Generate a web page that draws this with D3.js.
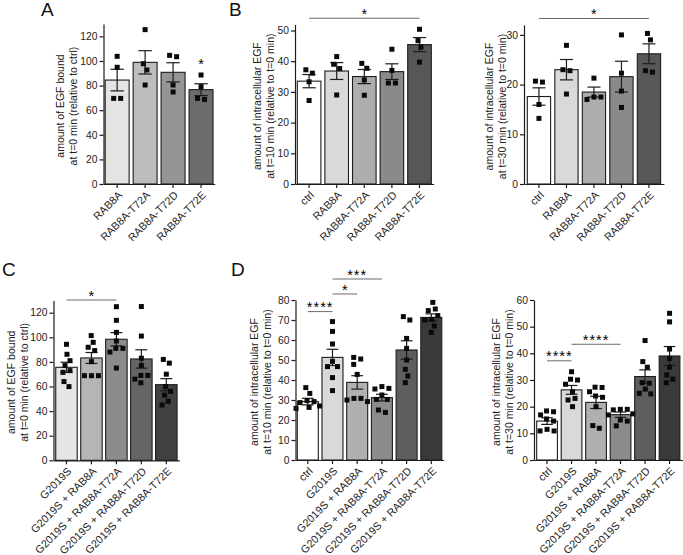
<!DOCTYPE html>
<html><head><meta charset="utf-8">
<script src="https://cdn.jsdelivr.net/npm/d3@7"></script>
<style>body{margin:0;background:#fff} svg{display:block}</style>
</head><body>
<svg id="c" width="683" height="555"></svg>
<script>
// ---------------- DATA ----------------
// Panel A
const catsA = ["RAB8A", "RAB8A-T72A", "RAB8A-T72D", "RAB8A-T72E"];
const meanA = [84.5, 98.9, 90.8, 76.7];
const semA  = [8.8, 9.5, 7.8, 4.8];
const ptsA  = [[103.8, 94.9, 69.6, 69.6], [125.5, 97.8, 92.7, 80.5], [103.5, 104.6, 80.5, 74.8], [88.6, 79.1, 68.8, 69.6]];
const ticksA = [0, 20, 40, 60, 80, 100, 120];
const sigA = [[3, 3, "*", 94]];

// Panel B (t=10)
const catsB = ["ctrl", "RAB8A", "RAB8A-T72A", "RAB8A-T72D", "RAB8A-T72E"];
const meanB10 = [33.5, 36.8, 35.0, 36.6, 45.4];
const semB10  = [2.15, 2.75, 2.3, 2.55, 2.3];
const ptsB10  = [[36.1, 37.2, 33.3, 27.2], [41.5, 39.0, 37.6, 29.0], [37.7, 39.3, 33.9, 28.9], [43.9, 37.0, 32.9, 32.9], [50.4, 46.7, 44.6, 39.7]];
const ticksB10 = [0, 10, 20, 30, 40, 50];
const sigB10 = [[0, 4, "*", 54]];

// Panel B (t=30)
const meanB30 = [17.6, 23.0, 18.5, 21.6, 26.2];
const semB30  = [1.75, 2.05, 1.0, 3.1, 2.0];
const ptsB30  = [[20.5, 20.7, 16.0, 13.2], [27.9, 23.0, 22.8, 18.1], [21.3, 17.5, 17.0, 17.5], [30.0, 22.3, 18.7, 15.4], [30.3, 29.0, 22.5, 22.8]];
const ticksB30 = [0, 10, 20, 30];
const sigB30 = [[0, 4, "*", 33.3]];

// Panel C
const catsC = ["G2019S", "G2019S + RAB8A", "G2019S + RAB8A-T72A", "G2019S + RAB8A-T72D", "G2019S + RAB8A-T72E"];
const meanC = [75.6, 83.2, 98.4, 82.4, 61.5];
const semC  = [4.1, 4.45, 5.4, 7.45, 4.9];
const ptsC  = [
  [94.3, 86.2, 81.0, 77.0, 72.9, 71.5, 64.0, 59.9],
  [101.4, 95.9, 91.9, 89.2, 80.2, 68.8, 68.8, 68.8],
  [124.9, 113.8, 104.0, 97.0, 91.0, 91.0, 88.0, 75.0],
  [125.0, 101.0, 83.0, 77.0, 69.0, 69.0, 66.0, 63.0],
  [82.0, 79.0, 70.0, 60.0, 56.0, 53.0, 48.0, 45.0]
];
const ticksC = [0, 20, 40, 60, 80, 100, 120];
const sigC = [[0, 2, "*", 130.3]];

// Panel D (t=10)
const catsD = ["ctrl", "G2019S", "G2019S + RAB8A", "G2019S + RAB8A-T72A", "G2019S + RAB8A-T72D", "G2019S + RAB8A-T72E"];
const meanD10 = [29.2, 51.3, 38.8, 31.2, 55.0, 71.3];
const semD10  = [1.65, 4.05, 3.35, 1.65, 4.6, 1.75];
const ptsD10  = [
  [33.3, 36.2, 29.2, 29.7, 28.7, 27.0, 25.8, 26.3],
  [69.2, 64.3, 58.0, 49.3, 46.7, 46.7, 41.2, 34.7],
  [51.3, 50.5, 47.8, 42.8, 30.8, 29.2, 30.0, 30.8],
  [35.8, 36.7, 35.5, 32.5, 30.3, 30.3, 23.8, 25.0],
  [70.0, 71.7, 60.8, 55.8, 50.0, 45.3, 42.0, 38.7],
  [78.8, 74.7, 75.5, 70.3, 70.0, 72.2, 67.0, 63.8]
];
const ticksD10 = [0, 10, 20, 30, 40, 50, 60, 70, 80];
const sigD10 = [[0, 1, "****", 74.2], [1, 2, "*", 83], [1, 3, "***", 90.5]];

// Panel D (t=30)
const meanD30 = [14.6, 26.3, 21.6, 17.0, 31.3, 39.0];
const semD30  = [1.25, 1.65, 2.3, 1.0, 2.5, 3.55];
const ptsD30  = [
  [18.1, 18.4, 16.9, 15.4, 14.6, 11.5, 10.9, 10.9],
  [33.1, 30.3, 30.0, 28.4, 25.6, 23.1, 22.5, 20.0],
  [27.2, 27.3, 25.6, 24.0, 23.5, 20.0, 12.9, 11.9],
  [19.0, 18.8, 19.0, 17.3, 16.9, 15.0, 14.6, 12.8],
  [44.8, 36.9, 34.8, 29.0, 28.8, 26.6, 24.8, 25.0],
  [55.0, 51.8, 41.6, 38.1, 34.8, 31.9, 30.3, 29.0]
];
const ticksD30 = [0, 10, 20, 30, 40, 50, 60];
const sigD30 = [[0, 1, "****", 37.2], [1, 3, "****", 43.4]];

// y-axis titles
const titleEGFbound = ["amount of EGF bound", "at t=0 min (relative to ctrl)"];
const titleIntra10 = ["amount of intracellular EGF", "at t=10 min (relative to t=0 min)"];
const titleIntra30 = ["amount of intracellular EGF", "at t=30 min (relative to t=0 min)"];

// ---------------- STYLE ----------------
const FONT = "'Liberation Sans', Arial, Helvetica, sans-serif";
const fillsA = ["#e4e4e4", "#bdbdbd", "#959595", "#6c6c6c"];
const fillsB = ["#ffffff", "#d9d9d9", "#adadad", "#8a8a8a", "#575757"];
const fillsC = ["#e6e6e6", "#b5b5b5", "#8c8c8c", "#666666", "#414141"];
const fillsD = ["#ffffff", "#d9d9d9", "#b0b0b0", "#8c8c8c", "#5e5e5e", "#3a3a3a"];
const INK = "#1c1c1c";

const svg = d3.select("#c");

function swarm(vals, y, d) {
  const pts = vals.map((v, i) => ({ v, i, py: y(v), dx: 0 }));
  const sorted = pts.slice().sort((a, b) => b.v - a.v);
  const placed = [];
  for (const p of sorted) {
    for (let k = 0; k < 400; k++) {
      const cand = k === 0 ? 0 : (k % 2 ? 1 : -1) * Math.ceil(k / 2) * 0.5;
      if (placed.every(q => (q.dx - cand) ** 2 + (q.py - p.py) ** 2 >= d * d)) { p.dx = cand; break; }
    }
    placed.push(p);
  }
  const parent = placed.map((_, i) => i);
  const find = i => parent[i] === i ? i : (parent[i] = find(parent[i]));
  for (let a = 0; a < placed.length; a++)
    for (let b = a + 1; b < placed.length; b++)
      if (Math.abs(placed[a].py - placed[b].py) < d) parent[find(a)] = find(b);
  const groups = d3.group(placed.map((p, i) => [find(i), p]), e => e[0]);
  for (const [, arr] of groups) {
    const xs = arr.map(e => e[1].dx);
    const shift = (d3.min(xs) + d3.max(xs)) / 2;
    arr.forEach(e => e[1].dx -= shift);
  }
  return placed;
}

function drawPanel(cfg) {
  const g = svg.append("g");
  const x = d3.scaleBand().domain(cfg.cats).range([cfg.left, cfg.right])
    .paddingInner(cfg.pi).paddingOuter(cfg.po);
  const y = d3.scaleLinear().domain([0, cfg.max]).range([cfg.bottom, cfg.top]);
  const bw = x.bandwidth();
  const cx = c => x(c) + bw / 2;

  g.selectAll("rect.bar").data(cfg.cats).join("rect").attr("class", "bar")
    .attr("x", d => x(d)).attr("width", bw)
    .attr("y", (d, i) => y(cfg.mean[i])).attr("height", (d, i) => y(0) - y(cfg.mean[i]))
    .attr("fill", (d, i) => cfg.fills[i]).attr("stroke", INK).attr("stroke-width", 1.1);

  const cap = bw * 0.28;
  cfg.cats.forEach((c, i) => {
    const hi = y(cfg.mean[i] + cfg.sem[i]), lo = y(cfg.mean[i] - cfg.sem[i]);
    const eg = g.append("g").attr("stroke", INK).attr("stroke-width", 1.2);
    eg.append("line").attr("x1", cx(c)).attr("x2", cx(c)).attr("y1", hi).attr("y2", lo);
    eg.append("line").attr("x1", cx(c) - cap).attr("x2", cx(c) + cap).attr("y1", hi).attr("y2", hi);
    eg.append("line").attr("x1", cx(c) - cap).attr("x2", cx(c) + cap).attr("y1", lo).attr("y2", lo);
  });

  const ms = 5;
  cfg.cats.forEach((c, i) => {
    const sw = swarm(cfg.pts[i], y, 7);
    g.append("g").selectAll("rect").data(sw).join("rect")
      .attr("x", p => cx(c) + p.dx - ms / 2).attr("y", p => p.py - ms / 2)
      .attr("width", ms).attr("height", ms).attr("fill", "#0a0a0a");
  });

  const ya = d3.axisLeft(y).tickValues(cfg.ticks).tickSize(4).tickSizeOuter(0).tickPadding(2);
  const yg = g.append("g").attr("transform", `translate(${cfg.left},0)`).call(ya);
  const xa = d3.axisBottom(x).tickSize(4).tickSizeOuter(0).tickFormat("");
  const xg = g.append("g").attr("transform", `translate(0,${cfg.bottom})`).call(xa);
  [yg, xg].forEach(a => {
    a.selectAll("path,line").attr("stroke", INK).attr("stroke-width", 1.2);
    a.selectAll("text").attr("font-family", FONT).attr("font-size", 10.3).attr("fill", "#222");
  });

  g.append("g").selectAll("text").data(cfg.cats).join("text")
    .attr("transform", d => `translate(${cx(d) + 3},${cfg.bottom + 9}) rotate(-45)`)
    .attr("text-anchor", "end").attr("dy", "0.35em")
    .attr("font-family", FONT).attr("font-size", 10.8).attr("fill", "#222")
    .text(d => d);

  const midY = (cfg.bottom + cfg.top) / 2 + 2;
  cfg.title.forEach((t, k) => {
    g.append("text").attr("transform", `translate(${cfg.titleX[k]},${midY}) rotate(-90)`)
      .attr("text-anchor", "middle").attr("font-family", FONT).attr("font-size", 10.5)
      .attr("fill", "#222").text(t);
  });

  cfg.sig.forEach(([a, b, lab, lev]) => {
    const yy = y(lev);
    if (a !== b) {
      g.append("line").attr("x1", cx(cfg.cats[a])).attr("x2", cx(cfg.cats[b]))
        .attr("y1", yy).attr("y2", yy).attr("stroke", "#6a6a6a").attr("stroke-width", 1);
    }
    g.append("text").attr("x", (cx(cfg.cats[a]) + cx(cfg.cats[b])) / 2).attr("y", yy + 0.5)
      .attr("text-anchor", "middle").attr("font-family", FONT).attr("font-size", 14.5)
      .attr("letter-spacing", lab.length > 1 ? 1 : 0)
      .attr("fill", "#000").text(lab);
  });
}

drawPanel({ cats: catsA, mean: meanA, sem: semA, pts: ptsA, ticks: ticksA, sig: sigA, fills: fillsA,
  left: 103.5, right: 214.7, pi: 0.143, po: 0.06, bottom: 184, max: 130, top: 184 - 130 * 1.23,
  title: titleEGFbound, titleX: [64, 76.5] });
drawPanel({ cats: catsB, mean: meanB10, sem: semB10, pts: ptsB10, ticks: ticksB10, sig: sigB10, fills: fillsB,
  left: 295, right: 433.6, pi: 0.145, po: 0.083, bottom: 184, max: 52, top: 184 - 52 * 3.07,
  title: titleIntra10, titleX: [261, 273.5] });
drawPanel({ cats: catsB, mean: meanB30, sem: semB30, pts: ptsB30, ticks: ticksB30, sig: sigB30, fills: fillsB,
  left: 524, right: 663.9, pi: 0.153, po: 0.12, bottom: 184, max: 32, top: 184 - 32 * 4.97,
  title: titleIntra30, titleX: [493, 505.5] });
drawPanel({ cats: catsC, mean: meanC, sem: semC, pts: ptsC, ticks: ticksC, sig: sigC, fills: fillsC,
  left: 53.5, right: 179.3, pi: 0.14, po: 0.09, bottom: 460.3, max: 130, top: 460.3 - 130 * 1.23,
  title: titleEGFbound, titleX: [15, 27.5] });
drawPanel({ cats: catsD, mean: meanD10, sem: semD10, pts: ptsD10, ticks: ticksD10, sig: sigD10, fills: fillsD,
  left: 295.5, right: 443.6, pi: 0.15, po: 0.073, bottom: 460, max: 80, top: 300,
  title: titleIntra10, titleX: [258, 270.5] });
drawPanel({ cats: catsD, mean: meanD30, sem: semD30, pts: ptsD30, ticks: ticksD30, sig: sigD30, fills: fillsD,
  left: 534, right: 682.6, pi: 0.155, po: 0.11, bottom: 460, max: 60, top: 300,
  title: titleIntra30, titleX: [500, 512.5] });

const letters = [["A", 41, 16], ["B", 229, 16], ["C", 2, 276], ["D", 231, 276]];
svg.selectAll("text.letter").data(letters).join("text").attr("class", "letter")
  .attr("x", d => d[1]).attr("y", d => d[2]).attr("font-family", FONT)
  .attr("font-size", 19).attr("fill", "#111").text(d => d[0]);
</script>
</body></html>
